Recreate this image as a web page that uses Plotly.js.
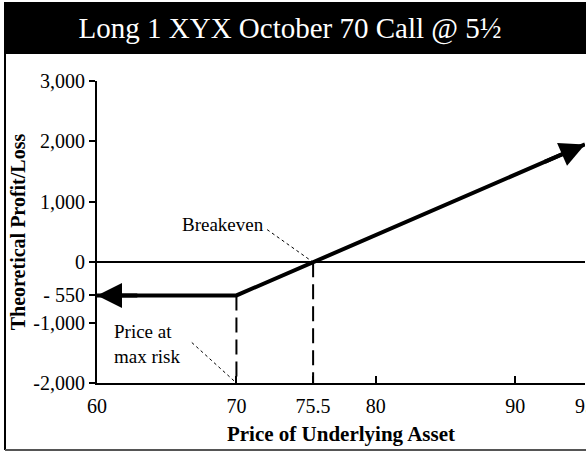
<!DOCTYPE html>
<html>
<head>
<meta charset="utf-8">
<script src="https://cdn.plot.ly/plotly-3.0.1.min.js"></script>
<style>
  html, body { margin: 0; padding: 0; background: #fff; }
  #chart { width: 586px; height: 452px; }
</style>
</head>
<body>
<div id="chart"></div>
<script>
// ---- data ----
const priceX = [60, 70, 95];
const profitLoss = [-550, -550, 1950];
const strikePrice = 70;
const breakevenPrice = 75.5;
const maxLoss = -550;
const axisBottom = -2000;
const xTickVals = [60, 70, 75.5, 80, 90, 95];
const xTickText = ['60', '70', '75.5', '80', '90', '95'];
const yTickVals = [-2000, -1000, -550, 0, 1000, 2000, 3000];
const yTickText = ['-2,000', '-1,000', '- 550', '0', '1,000', '2,000', '3,000'];

const serif = '"Liberation Serif", "DejaVu Serif", serif';

const traces = [
  { // payoff line
    x: priceX, y: profitLoss, mode: 'lines', type: 'scatter',
    line: { color: '#000', width: 4 }, hoverinfo: 'skip', showlegend: false
  },
  { // dashed at strike
    x: [strikePrice, strikePrice], y: [maxLoss, axisBottom], mode: 'lines', type: 'scatter',
    line: { color: '#000', width: 2, dash: '15px,7px' }, showlegend: false, hoverinfo: 'skip'
  },
  { // dashed at breakeven
    x: [breakevenPrice, breakevenPrice], y: [0, axisBottom], mode: 'lines', type: 'scatter',
    line: { color: '#000', width: 2, dash: '15px,7px' }, showlegend: false, hoverinfo: 'skip'
  }
];

const layout = {
  width: 586, height: 452,
  margin: { l: 97, r: 1, t: 81, b: 69 },
  paper_bgcolor: '#fff', plot_bgcolor: '#fff',
  showlegend: false,
  font: { family: serif, color: '#000', size: 20 },
  title: {
    text: 'Long 1 XYX October 70 Call @ 5½',
    font: { family: serif, size: 29, color: '#fff' },
    xref: 'container', x: 0.495, xanchor: 'center',
    yref: 'container', y: 1 - 28 / 452, yanchor: 'middle'
  },
  xaxis: {
    range: [60, 95], showgrid: false, zeroline: false,
    showline: true, linecolor: '#000', linewidth: 2,
    tickmode: 'array', tickvals: xTickVals, ticktext: xTickText,
    ticks: 'inside', ticklen: 7, tickcolor: '#000', tickwidth: 2,
    ticklabeloverflow: 'allow', ticklabelstandoff: 4,
    tickfont: { family: serif, size: 20 },
    title: { text: 'Price of Underlying Asset', font: { family: serif, size: 21, weight: 'bold' }, standoff: 10 },
    fixedrange: true
  },
  yaxis: {
    range: [-2000, 3000], showgrid: false,
    zeroline: true, zerolinecolor: '#000', zerolinewidth: 2,
    showline: true, linecolor: '#000', linewidth: 2,
    tickmode: 'array', tickvals: yTickVals, ticktext: yTickText,
    ticks: 'outside', ticklen: 6, tickcolor: '#000', tickwidth: 2,
    tickfont: { family: serif, size: 20 },
    title: { text: 'Theoretical Profit/Loss', font: { family: serif, size: 20, weight: 'bold' }, standoff: 2 },
    fixedrange: true
  },
  shapes: [
    // title band
    { type: 'rect', xref: 'paper', yref: 'paper', x0: (4 - 97) / 488, x1: (590 - 97) / 488,
      y0: (383 - 54) / 302, y1: (383 - 2) / 302, fillcolor: '#000', line: { width: 0 }, layer: 'below' },
    // left frame
    { type: 'line', xref: 'paper', yref: 'paper', x0: (5 - 97) / 488, x1: (5 - 97) / 488,
      y0: (383 - 54) / 302, y1: (383 - 450) / 302, line: { color: '#000', width: 2 } },
    // bottom frame
    { type: 'line', xref: 'paper', yref: 'paper', x0: (5 - 97) / 488, x1: (590 - 97) / 488,
      y0: (383 - 450) / 302, y1: (383 - 450) / 302, line: { color: '#555', width: 2 } },
    // leader lines
    { type: 'line', xref: 'x', yref: 'y', x0: 72.2, y0: 540, x1: breakevenPrice, y1: 0,
      line: { color: '#000', width: 1, dash: 'dot' } },
    { type: 'line', xref: 'x', yref: 'y', x0: 66.8, y0: -1330, x1: strikePrice, y1: axisBottom,
      line: { color: '#000', width: 1, dash: 'dot' } }
  ],
  annotations: [
    // arrowheads
    { x: priceX[0], y: profitLoss[0], ax: priceX[0] + 3, ay: profitLoss[0], xref: 'x', yref: 'y',
      axref: 'x', ayref: 'y', text: '', showarrow: true, arrowhead: 2, arrowsize: 1.25, arrowwidth: 4,
      arrowcolor: '#000', standoff: 0 },
    { x: priceX[2], y: profitLoss[2], ax: 92, ay: 1650, xref: 'x', yref: 'y',
      axref: 'x', ayref: 'y', text: '', showarrow: true, arrowhead: 2, arrowsize: 1.25, arrowwidth: 4,
      arrowcolor: '#000', standoff: 0 },
    // labels
    { x: 72.15, y: 630, xref: 'x', yref: 'y', text: 'Breakeven', showarrow: false,
      xanchor: 'right', yanchor: 'middle', font: { family: serif, size: 19 } },
    { x: 61.1, y: -1350, xref: 'x', yref: 'y', text: 'Price at<br>max risk', showarrow: false,
      xanchor: 'left', yanchor: 'middle', align: 'left', font: { family: serif, size: 19 } }
  ]
};

Plotly.newPlot('chart', traces, layout, { displayModeBar: false, staticPlot: true });
</script>
</body>
</html>
